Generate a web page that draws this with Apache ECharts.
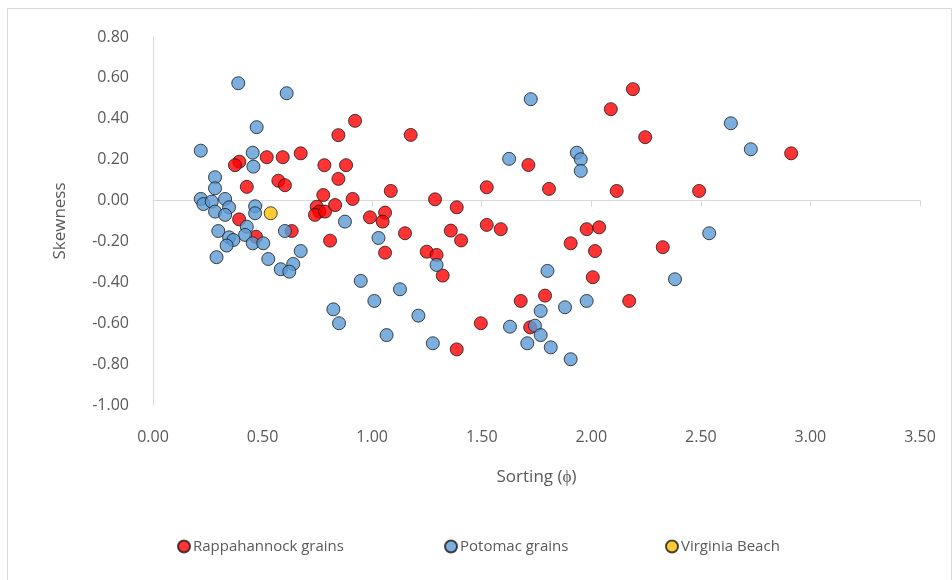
<!DOCTYPE html>
<html>
<head>
<meta charset="utf-8">
<script src="https://cdn.jsdelivr.net/npm/echarts@6/dist/echarts.min.js"></script>
<style>
  html, body { margin: 0; padding: 0; background: #fff; }
  #chart { width: 952px; height: 580px; }
</style>
</head>
<body>
<div id="chart"></div>
<script>
// sorting (phi), skewness pairs
const rappahannock = [
  [0.394, 0.190], [0.374, 0.173], [0.519, 0.212], [0.592, 0.212], [0.674, 0.231],
  [0.782, 0.173], [0.881, 0.173], [0.846, 0.106], [0.572, 0.097], [0.602, 0.075],
  [0.428, 0.067], [0.777, 0.027], [0.747, -0.030], [0.759, -0.054], [0.739, -0.070],
  [0.785, -0.054], [0.831, -0.022], [0.808, -0.196], [0.393, -0.092], [0.470, -0.177],
  [0.633, -0.149], [0.846, 0.320], [0.922, 0.390], [1.176, 0.321], [1.713, 0.174],
  [1.085, 0.047], [1.287, 0.006], [1.386, -0.033], [1.523, 0.065], [0.911, 0.008],
  [0.990, -0.082], [1.059, -0.059], [1.048, -0.103], [1.150, -0.160], [1.359, -0.147],
  [1.406, -0.195], [1.523, -0.119], [1.587, -0.140], [1.059, -0.255], [1.249, -0.250],
  [1.294, -0.266], [1.322, -0.367], [1.386, -0.728], [1.496, -0.600], [1.678, -0.491],
  [1.721, -0.620], [2.190, 0.545], [2.089, 0.447], [1.807, 0.057], [2.116, 0.047],
  [1.979, -0.140], [2.036, -0.131], [1.906, -0.209], [2.017, -0.247], [2.007, -0.375],
  [1.789, -0.465], [2.173, -0.491], [2.246, 0.310], [2.492, 0.047], [2.326, -0.228],
  [2.912, 0.231]
];

const potomac = [
  [0.389, 0.574], [0.610, 0.525], [0.473, 0.359], [0.218, 0.244], [0.455, 0.234],
  [0.458, 0.166], [0.283, 0.114], [0.283, 0.060], [0.218, 0.008], [0.329, 0.008],
  [0.230, -0.017], [0.268, -0.005], [0.347, -0.033], [0.283, -0.054], [0.329, -0.070],
  [0.466, -0.028], [0.466, -0.062], [0.428, -0.128], [0.420, -0.168], [0.298, -0.149],
  [0.347, -0.180], [0.367, -0.193], [0.336, -0.220], [0.455, -0.209], [0.503, -0.209],
  [0.290, -0.277], [0.526, -0.286], [0.602, -0.149], [0.674, -0.247], [0.640, -0.310],
  [0.583, -0.336], [0.622, -0.348], [0.876, -0.103], [1.625, 0.204], [1.029, -0.183],
  [0.948, -0.393], [1.127, -0.434], [1.010, -0.491], [0.823, -0.532], [0.849, -0.600],
  [1.211, -0.563], [1.066, -0.658], [1.277, -0.698], [1.294, -0.315], [1.629, -0.617],
  [1.708, -0.698], [1.724, 0.496], [1.934, 0.234], [1.952, 0.202], [1.952, 0.145],
  [1.800, -0.344], [1.880, -0.522], [1.979, -0.491], [1.769, -0.540], [1.743, -0.612],
  [1.769, -0.658], [1.815, -0.718], [1.906, -0.776], [2.637, 0.378], [2.728, 0.251],
  [2.538, -0.160], [2.382, -0.385]
];

const virginiaBeach = [
  [0.537, -0.062]
];

const seriesNames = ['Rappahannock grains', 'Potomac grains', 'Virginia Beach'];
const seriesColors = ['#ff0000', '#5b9bd5', '#ffc000'];

const font = 'Open Sans';
const textColor = '#595959';

const chart = echarts.init(document.getElementById('chart'));

function dots(name, data, color) {
  return {
    name: name,
    type: 'scatter',
    data: data,
    symbol: 'circle',
    symbolSize: 13,
    itemStyle: { color: color, borderColor: '#1a1a1a', borderWidth: 1 },
    emphasis: { disabled: true }
  };
}

// excel spaces the legend entries unevenly, so one legend per entry
const legendLeft = [172, 439, 660];
const legends = seriesNames.map((n, i) => ({
  left: legendLeft[i],
  top: 534,
  itemWidth: 12,
  itemHeight: 12,
  itemGap: 0,
  icon: 'circle',
  textStyle: { color: textColor, fontSize: 15, fontFamily: font, padding: [0, 0, 0, -2] },
  data: [n]
}));

chart.setOption({
  animation: false,
  textStyle: { fontFamily: font },
  graphic: [{
    type: 'rect',
    shape: { x: 7.5, y: 8.5, width: 944, height: 575 },
    style: { fill: 'none', stroke: '#d9d9d9', lineWidth: 1 },
    silent: true
  }],
  grid: { left: 153, top: 37, width: 767, height: 368 },
  legend: legends,
  xAxis: {
    type: 'value',
    min: 0,
    max: 3.5,
    interval: 0.5,
    name: 'Sorting (ϕ)',
    nameLocation: 'middle',
    nameGap: 64,
    nameTextStyle: { color: textColor, fontSize: 17, fontFamily: font },
    axisLine: { lineStyle: { color: '#d9d9d9' } },
    axisTick: { show: true, length: 6, lineStyle: { color: '#d9d9d9' } },
    splitLine: { show: false },
    axisLabel: {
      color: textColor, fontSize: 16, margin: 24,
      formatter: v => v.toFixed(2)
    }
  },
  yAxis: {
    type: 'value',
    min: -1,
    max: 0.8,
    interval: 0.2,
    name: 'Skewness',
    nameLocation: 'middle',
    nameGap: 84,
    nameTextStyle: { color: textColor, fontSize: 17, fontFamily: font },
    axisLine: { show: true, lineStyle: { color: '#d9d9d9' } },
    axisTick: { show: false },
    splitLine: { show: false },
    axisLabel: {
      color: textColor, fontSize: 16, margin: 24,
      formatter: v => v.toFixed(2)
    }
  },
  series: [
    dots(seriesNames[0], rappahannock, seriesColors[0]),
    dots(seriesNames[1], potomac, seriesColors[1]),
    dots(seriesNames[2], virginiaBeach, seriesColors[2])
  ]
});
</script>
</body>
</html>
